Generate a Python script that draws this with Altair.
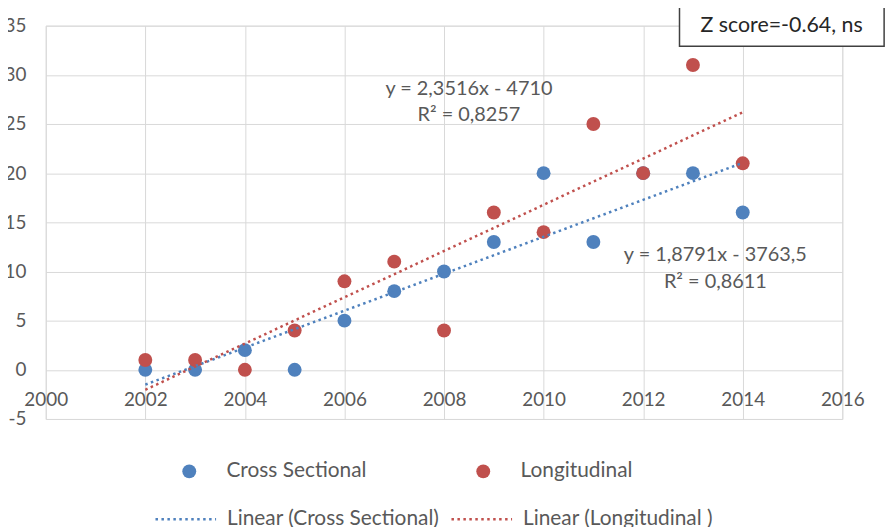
import altair as alt
import pandas as pd

years = [2002, 2003, 2004, 2005, 2006, 2007, 2008, 2009, 2010, 2011, 2012, 2013, 2014]
cross_sectional = [0, 0, 2, 0, 5, 8, 10, 13, 20, 13, 20, 20, 16]
longitudinal = [1, 1, 0, 4, 9, 11, 4, 16, 14, 25, 20, 31, 21]
series_names = ["Cross Sectional", "Longitudinal"]
trend_names = ["Linear (Cross Sectional)", "Linear (Longitudinal )"]
colors = ["#4F81BD", "#C0504D"]
x_ticks = [2000, 2002, 2004, 2006, 2008, 2010, 2012, 2014, 2016]
y_ticks = [-5, 0, 5, 10, 15, 20, 25, 30, 35]

# trendline equation labels (data coordinates)
eq_text = ["y = 2,3516x - 4710", "R² = 0,8257", "y = 1,8791x - 3763,5", "R² = 0,8611"]
eq_x = [2008.5, 2008.5, 2013.45, 2013.45]
eq_y = [28.6, 25.9, 11.7, 8.9]

# Z score box (data coordinates)
box_x = [2012.73]
box_x2 = [2016.84]
box_y = [37.2]
box_y2 = [32.9]
box_text = ["Z score=-0.64, ns"]
box_text_x = [2014.78]
box_text_y = [35.0]

FONT = "Lato"
GRAY = "#595959"

rows = []
for yr, c in zip(years, cross_sectional):
    rows.append({"year": yr, "value": c, "series": series_names[0]})
for yr, l in zip(years, longitudinal):
    rows.append({"year": yr, "value": l, "series": series_names[1]})
df = pd.DataFrame(rows)

eq_df = pd.DataFrame({"text": eq_text, "x": eq_x, "y": eq_y})
box_df = pd.DataFrame({"x": box_x, "x2": box_x2, "y": box_y, "y2": box_y2,
                       "text": box_text, "tx": box_text_x, "ty": box_text_y})

xscale = alt.Scale(domain=[2000, 2016], nice=False, zero=False)
yscale = alt.Scale(domain=[-5, 35], nice=False, zero=False)

xaxis = alt.Axis(values=x_ticks, format="d", title=None, grid=True, domain=False,
                 ticks=False, labelPadding=21, offset=-49.5, labelFont=FONT,
                 labelFontSize=19, labelColor=GRAY, gridColor="#D9D9D9", labelFlush=False)
yaxis = alt.Axis(values=y_ticks, title=None, grid=True, domain=False, ticks=False,
                 labelPadding=20, labelFont=FONT, labelFontSize=19, labelColor=GRAY,
                 gridColor="#D9D9D9", labelExpr="'' + datum.value")

base = alt.Chart(df)

points = base.mark_point(filled=True, size=196, opacity=1, shape="circle").encode(
    x=alt.X("year:Q", scale=xscale, axis=xaxis),
    y=alt.Y("value:Q", scale=yscale, axis=yaxis),
    fill=alt.Fill("series:N", scale=alt.Scale(domain=series_names, range=colors),
                  legend=alt.Legend(title=None, orient="none", legendX=134, legendY=438,
                                    direction="horizontal", columns=2, columnPadding=106,
                                    symbolType="circle", symbolSize=196, symbolStrokeWidth=0,
                                    labelOffset=27, labelFont=FONT, labelFontSize=21,
                                    labelColor=GRAY, padding=0, labelLimit=400)),
)

lines = base.transform_regression(
    "year", "value", groupby=["series"], extent=[2002, 2014]
).transform_calculate(
    trend="datum.series == '%s' ? '%s' : '%s'" % (series_names[0], trend_names[0], trend_names[1])
).mark_line(strokeDash=[2.5, 3.5], strokeWidth=2.5).encode(
    x=alt.X("year:Q", scale=xscale),
    y=alt.Y("value:Q", scale=yscale),
    stroke=alt.Stroke("trend:N", scale=alt.Scale(domain=trend_names, range=colors),
                      legend=alt.Legend(title=None, orient="none", legendX=109, legendY=465,
                                        direction="horizontal", columns=2, columnPadding=6,
                                        symbolType="stroke", symbolSize=3721,
                                        symbolStrokeWidth=2.5, symbolDash=[2.5, 3.5],
                                        labelOffset=9.5, labelFont=FONT, labelFontSize=21,
                                        labelColor=GRAY, padding=0, labelLimit=400)),
)

eqs = alt.Chart(eq_df).mark_text(font=FONT, fontSize=20, color=GRAY, align="center",
                                 baseline="middle").encode(
    x=alt.X("x:Q", scale=xscale), y=alt.Y("y:Q", scale=yscale), text="text:N")

box = alt.Chart(box_df).mark_rect(fill="white", stroke="#404040", strokeWidth=1.5).encode(
    x=alt.X("x:Q", scale=xscale), x2="x2:Q", y=alt.Y("y:Q", scale=yscale), y2="y2:Q")

box_label = alt.Chart(box_df).mark_text(font=FONT, fontSize=21.5, color="#262626",
                                        align="center", baseline="middle").encode(
    x=alt.X("tx:Q", scale=xscale), y=alt.Y("ty:Q", scale=yscale), text="text:N")

chart = alt.layer(points, lines, eqs, box, box_label).resolve_scale(
    fill="independent", stroke="independent"
).properties(
    width=802, height=396,
    autosize=alt.AutoSizeParams(type="none"),
    padding={"left": 38, "top": 16, "right": 44, "bottom": 107},
).configure_view(stroke=None).configure(background="white")

chart.save("out.html", embed_options={"renderer": "svg", "actions": False})
